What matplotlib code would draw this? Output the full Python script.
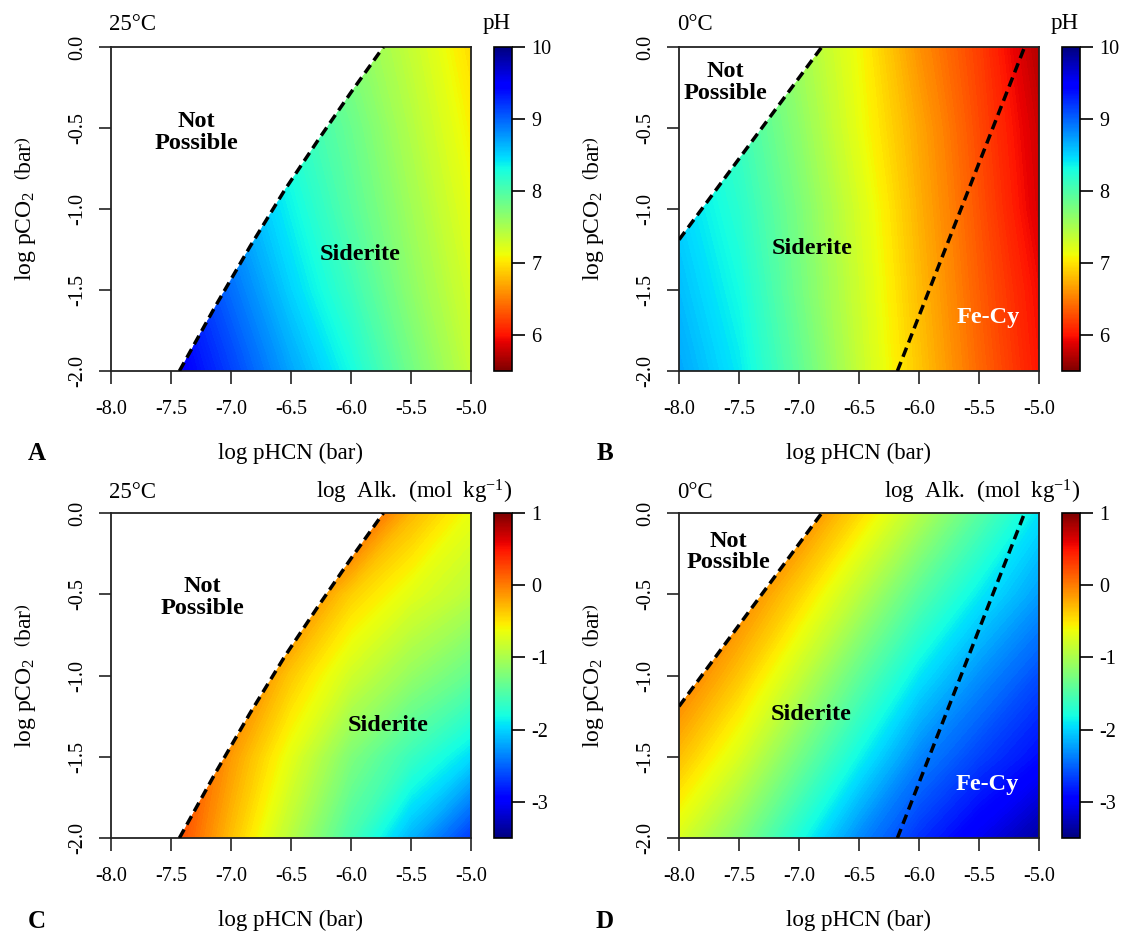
import matplotlib
matplotlib.use("Agg")
import matplotlib.pyplot as plt
import matplotlib.patches as mpatches
from matplotlib.colors import Normalize
from matplotlib.cm import ScalarMappable
import numpy as np

plt.rcParams.update({
    "font.family":       ["Liberation Serif", "DejaVu Serif"],
    "mathtext.fontset":  "custom",
    "mathtext.rm":       "Liberation Serif",
    "mathtext.it":       "Liberation Serif:italic",
    "mathtext.bf":       "Liberation Serif:bold",
    "axes.unicode_minus": False,
})

W, H = 1123, 932

# ── Grid of the fields ───────────────────────────────────────────────────────
LOG_HCN = [-8.0, -7.5, -7.0, -6.5, -6.0, -5.5, -5.0]
LOG_CO2 = [-2.0, -1.5, -1.0, -0.5, 0.0]
X_TICKS = [-8.0, -7.5, -7.0, -6.5, -6.0, -5.5, -5.0]
Y_TICKS = [-2.0, -1.5, -1.0, -0.5, 0.0]

# rows follow LOG_CO2, columns follow LOG_HCN
PH_25C = [
    [10.2, 9.55, 9.15, 8.7, 8.3, 7.8, 7.35],
    [10.0, 9.4, 8.95, 8.5, 8.1, 7.65, 7.25],
    [9.8, 9.2, 8.75, 8.35, 7.95, 7.55, 7.15],
    [9.6, 9.0, 8.6, 8.2, 7.85, 7.45, 7.05],
    [9.4, 8.8, 8.4, 8.05, 7.7, 7.35, 6.95],
]
PH_0C = [
    [8.7, 8.4, 7.9, 7.35, 6.85, 6.4, 6.0],
    [8.6, 8.3, 7.8, 7.3, 6.8, 6.35, 5.95],
    [8.5, 8.2, 7.75, 7.25, 6.75, 6.3, 5.85],
    [8.4, 8.1, 7.65, 7.15, 6.7, 6.25, 5.8],
    [8.3, 8.0, 7.55, 7.1, 6.6, 6.2, 5.7],
]
ALK_25C = [
    [0.95, 0.32, -0.32, -0.94, -1.55, -2.15, -2.7],
    [1.0, 0.42, -0.15, -0.69, -1.24, -1.62, -1.97],
    [1.3, 0.72, 0.15, -0.37, -0.8, -1.12, -1.38],
    [1.6, 1.1, 0.6, 0.08, -0.4, -0.7, -0.92],
    [2.3, 1.8, 1.3, 0.8, 0.3, -0.28, -0.65],
]
ALK_0C = [
    [-0.75, -1.22, -1.78, -2.33, -2.73, -3.05, -3.37],
    [-0.32, -0.75, -1.3, -1.85, -2.35, -2.65, -2.9],
    [0.05, -0.35, -0.85, -1.4, -1.92, -2.3, -2.6],
    [0.4, 0.0, -0.42, -0.92, -1.45, -1.9, -2.24],
    [0.8, 0.4, 0.0, -0.45, -0.95, -1.45, -1.93],
]

# ── Phase boundaries ─────────────────────────────────────────────────────────
NP_25C_X = [-7.43, -7.13, -6.84, -6.55, -6.27, -6.0, -5.73]
NP_25C_Y = [-2.0, -1.6, -1.23, -0.88, -0.57, -0.28, 0.0]
NP_0C_X = [-8.0, -6.81]
NP_0C_Y = [-1.19, 0.0]
FECY_0C_X = [-6.18, -5.12]
FECY_0C_Y = [-2.0, 0.0]

PH_RANGE = (5.5, 10.0)
PH_TICKS = [6, 7, 8, 9, 10]
ALK_RANGE = (-3.5, 1.0)
ALK_TICKS = [-3, -2, -1, 0, 1]

DASH = (0, (2.8, 1.6))


def px_axes(fig, x0, y0, x1, y1):
    return fig.add_axes([x0 / W, 1 - y1 / H, (x1 - x0) / W, (y1 - y0) / H])


def ftext(fig, x, y, s, **kw):
    fig.text(x / W, 1 - y / H, s, **kw)


def draw_panel(fig, box, cbox, field, cmap, vrange, cticks, np_x, np_y,
               fecy=None, labels=()):
    ax = px_axes(fig, *box)
    vmin, vmax = vrange
    levels = np.linspace(vmin, vmax, 181)
    cs = ax.contourf(LOG_HCN, LOG_CO2, np.array(field), levels=levels,
                     cmap=cmap, extend="both")

    # stable region = right of the "not possible" boundary
    poly = list(zip(np_x, np_y))
    if np_x[0] == -8.0:
        poly = [(-8.0, -2.0)] + poly
    poly += [(-5.0, 0.0), (-5.0, -2.0)]
    if np_x[0] != -8.0:
        poly += [(np_x[0], -2.0)]
    clip = mpatches.Polygon(poly, closed=True, transform=ax.transData,
                            facecolor="none", edgecolor="none")
    ax.add_patch(clip)
    cs.set_clip_path(clip)

    ax.plot(np_x, np_y, color="black", lw=2.5, ls=DASH, zorder=5)
    if fecy is not None:
        ax.plot(fecy[0], fecy[1], color="black", lw=2.5, ls=DASH, zorder=5)

    ax.set_xlim(-8.0, -5.0)
    ax.set_ylim(-2.0, 0.0)
    ax.set_xticks(X_TICKS)
    ax.set_xticklabels([f"{v:.1f}" for v in X_TICKS])
    ax.set_yticks(Y_TICKS)
    ax.set_yticklabels([f"{v:.1f}" for v in Y_TICKS], rotation=90, va="center")
    ax.tick_params(direction="out", length=9, width=1.2, labelsize=14.5,
                   color="#222222")
    ax.tick_params(axis="x", pad=12)
    ax.tick_params(axis="y", pad=8)
    for sp in ax.spines.values():
        sp.set_linewidth(1.3)
        sp.set_color("#222222")

    for (x, y, s, c) in labels:
        ax.text(x, y, s, ha="center", va="center", fontsize=17.5,
                fontweight="bold", color=c, linespacing=1.05, zorder=6)

    cax = px_axes(fig, *cbox)
    sm = ScalarMappable(norm=Normalize(vmin, vmax), cmap=cmap)
    cb = fig.colorbar(sm, cax=cax, ticks=cticks)
    cb.ax.set_yticklabels([str(t) for t in cticks])
    cb.outline.set_linewidth(1.2)
    cax.tick_params(direction="out", length=9, width=1.2, labelsize=14.5, pad=5)
    return ax


fig = plt.figure(figsize=(W / 100, H / 100), dpi=100)

rows = [(47, 371), (513, 838)]
cols = [(111, 471, 494, 512), (679, 1039, 1062, 1080)]

panels = [
    ("A", 0, 0, PH_25C, "jet_r", PH_RANGE, PH_TICKS, NP_25C_X, NP_25C_Y, None,
     [(-7.29, -0.53, "Not\nPossible", "black"), (-5.92, -1.28, "Siderite", "black")],
     "25°C"),
    ("B", 0, 1, PH_0C, "jet_r", PH_RANGE, PH_TICKS, NP_0C_X, NP_0C_Y,
     (FECY_0C_X, FECY_0C_Y),
     [(-7.61, -0.22, "Not\nPossible", "black"), (-6.89, -1.245, "Siderite", "black"),
      (-5.42, -1.67, "Fe-Cy", "white")],
     "0°C"),
    ("C", 1, 0, ALK_25C, "jet", ALK_RANGE, ALK_TICKS, NP_25C_X, NP_25C_Y, None,
     [(-7.24, -0.52, "Not\nPossible", "black"), (-5.69, -1.31, "Siderite", "black")],
     "25°C"),
    ("D", 1, 1, ALK_0C, "jet", ALK_RANGE, ALK_TICKS, NP_0C_X, NP_0C_Y,
     (FECY_0C_X, FECY_0C_Y),
     [(-7.59, -0.24, "Not\nPossible", "black"), (-6.90, -1.24, "Siderite", "black"),
      (-5.43, -1.67, "Fe-Cy", "white")],
     "0°C"),
]

for (letter, r, c, field, cmap, vr, ct, npx, npy, fecy, labels, temp) in panels:
    y0, y1 = rows[r]
    x0, x1, cx0, cx1 = cols[c]
    draw_panel(fig, (x0, y0, x1, y1), (cx0, y0, cx1, y1), field, cmap, vr, ct,
               npx, npy, fecy, labels)

    top = y0 - 23 if r == 0 else y0 - 21
    ftext(fig, x0 - 2, top, temp, ha="left", va="center", fontsize=16.5)
    if r == 0:
        ftext(fig, (cx0 + cx1) / 2 - 6, top, "pH", ha="center", va="center",
              fontsize=16.5)
    else:
        ftext(fig, cx1, top,
              r"log  Alk.  $\left(\mathrm{mol\ \ kg^{-1}}\right)$",
              ha="right", va="center", fontsize=16.5)

    ftext(fig, (x0 + x1) / 2, y1 + 82, "log pHCN (bar)", ha="center",
          va="center", fontsize=16.5)
    ftext(fig, x0 - 85, (y0 + y1) / 2,
          r"log pCO$_2$  $\left(\mathrm{bar}\right)$", ha="center",
          va="center", rotation=90, fontsize=17)
    ftext(fig, x0 - 74, y1 + 83, letter, ha="center", va="center",
          fontsize=18, fontweight="bold")

fig.savefig("out.png", dpi=100)
